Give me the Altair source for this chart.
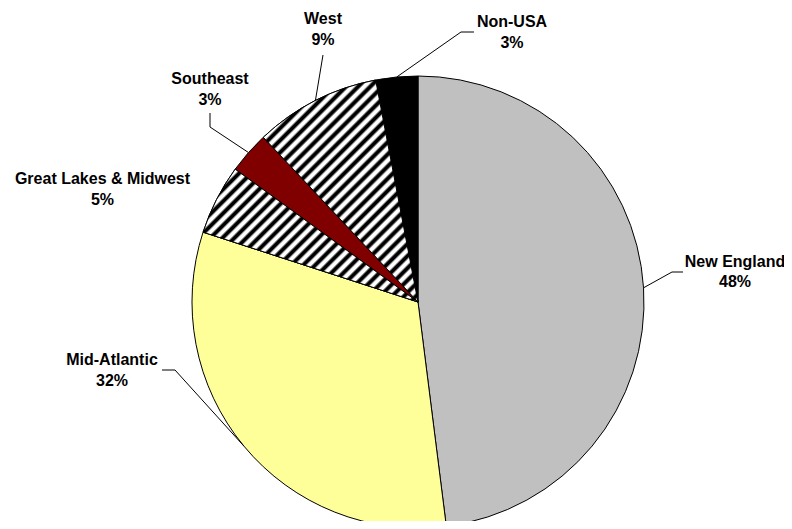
import math
import altair as alt
import pandas as pd

# ---- data -------------------------------------------------------------
regions = ["New England", "Mid-Atlantic", "Great Lakes & Midwest", "Southeast", "West", "Non-USA"]
shares = [48, 32, 5, 3, 9, 3]
slice_order = [1, 2, 3, 4, 5, 6]

# ---- styles -----------------------------------------------------------
fills = ["#C0C0C0", "#FFFF99", "#FFFFFF", "#800000", "#FFFFFF", "#000000"]
hatched = ["Great Lakes & Midwest", "West"]

# ---- layout (page pixels) ----------------------------------------------
M = 8                      # page margin
CX, CY, R = 418 - M, 302 - M, 226
W, H = 776, 513
label_x = [735, 112, 102.5, 210, 323, 512]
label_y = [266.5, 365, 184, 84, 24, 27]
knee_x = [672, 175, None, 210, 323, 461]
knee_y = [272, 370, None, 127, 55, 32]
end_x = [683, 162, None, 210, 323, 474]
end_y = [272, 370, None, 113, 55, 32]

df = pd.DataFrame({
    "region": regions,
    "value": shares,
    "order": slice_order,
    "lx": [v - M for v in label_x],
    "ly": [v - M for v in label_y],
    "kx": [None if v is None else v - M for v in knee_x],
    "ky": [None if v is None else v - M for v in knee_y],
    "ex": [None if v is None else v - M for v in end_x],
    "ey": [None if v is None else v - M for v in end_y],
})


def wedge_box(a0, a1, r):
    xs, ys = [0.0], [0.0]
    n = 200
    for i in range(n + 1):
        a = a0 + (a1 - a0) * i / n
        xs.append(r * math.sin(a))
        ys.append(-r * math.cos(a))
    return max(xs) - min(xs), max(ys) - min(ys)


def hatch(w, h, angle=45.0, period=8.5, dark="#000000", light="#FFFFFF"):
    k = math.tan(math.radians(angle)) * w / h
    s = (k + 1) / (k * k + 1)
    length = (k + 1) * w * h / math.sqrt(w * w + k * k * h * h)
    n = max(1, round(length / period))
    stops = []
    for i in range(n):
        b = i / n
        stops += [
            alt.GradientStop(color=light, offset=b),
            alt.GradientStop(color=dark, offset=b + 0.22 / n),
            alt.GradientStop(color=dark, offset=b + 0.48 / n),
            alt.GradientStop(color=light, offset=b + 0.70 / n),
        ]
    stops.append(alt.GradientStop(color=light, offset=1.0))
    return alt.LinearGradient(gradient="linear", x1=0, y1=0, x2=s * k, y2=s, stops=stops)


total = sum(shares)
cum = 0
grads = {}
for reg, v in zip(regions, shares):
    a0 = 2 * math.pi * cum / total
    cum += v
    a1 = 2 * math.pi * cum / total
    if reg in hatched:
        w, h = wedge_box(a0, a1, R)
        grads[reg] = hatch(w, h)

base = alt.Chart(df).transform_window(
    cum="sum(value)", frame=[None, 0], sort=[alt.SortField("order")]
).transform_joinaggregate(
    total="sum(value)"
).transform_calculate(
    a0="2 * PI * (datum.cum - datum.value) / datum.total",
    a1="2 * PI * datum.cum / datum.total",
).transform_calculate(
    mid="(datum.a0 + datum.a1) / 2",
).transform_calculate(
    sx=f"{CX} + {R} * sin(datum.mid)",
    sy=f"{CY} - {R} * cos(datum.mid)",
    label="datum.region + '\\n' + datum.value + '%'",
)

pie = base.mark_arc(radius=R, stroke="black", strokeWidth=1).encode(
    theta=alt.Theta("a0:Q", scale=None),
    theta2="a1:Q",
    x=alt.value(CX),
    y=alt.value(CY),
    fill=alt.Fill("region:N", scale=alt.Scale(domain=regions, range=fills), legend=None),
)

hatch_layers = []
for reg in hatched:
    hatch_layers.append(
        base.transform_filter(alt.datum.region == reg)
        .mark_arc(radius=R, stroke="black", strokeWidth=1, fill=grads[reg])
        .encode(theta=alt.Theta("a0:Q", scale=None), theta2="a1:Q",
                x=alt.value(CX), y=alt.value(CY))
    )

lead = base.transform_filter("isValid(datum.kx)")
seg1 = lead.mark_rule(color="black", strokeWidth=1).encode(
    x=alt.X("sx:Q", scale=None, axis=None), y=alt.Y("sy:Q", scale=None, axis=None),
    x2="kx:Q", y2="ky:Q",
)
seg2 = lead.mark_rule(color="black", strokeWidth=1).encode(
    x=alt.X("kx:Q", scale=None, axis=None), y=alt.Y("ky:Q", scale=None, axis=None),
    x2="ex:Q", y2="ey:Q",
)

labels = base.mark_text(
    font="Liberation Sans", fontWeight="bold", fontSize=16, lineBreak="\n",
    lineHeight=20.5, align="center", baseline="alphabetic", color="black",
).encode(
    x=alt.X("lx:Q", scale=None, axis=None),
    y=alt.Y("ly:Q", scale=None, axis=None),
    text="label:N",
)

chart = alt.layer(pie, *hatch_layers, seg1, seg2, labels).properties(
    width=W, height=H, autosize=alt.AutoSizeParams(type="none"), padding=0,
    background="white",
).configure_view(stroke=None)

chart.save("out.html", embed_options={"renderer": "svg", "actions": False})
